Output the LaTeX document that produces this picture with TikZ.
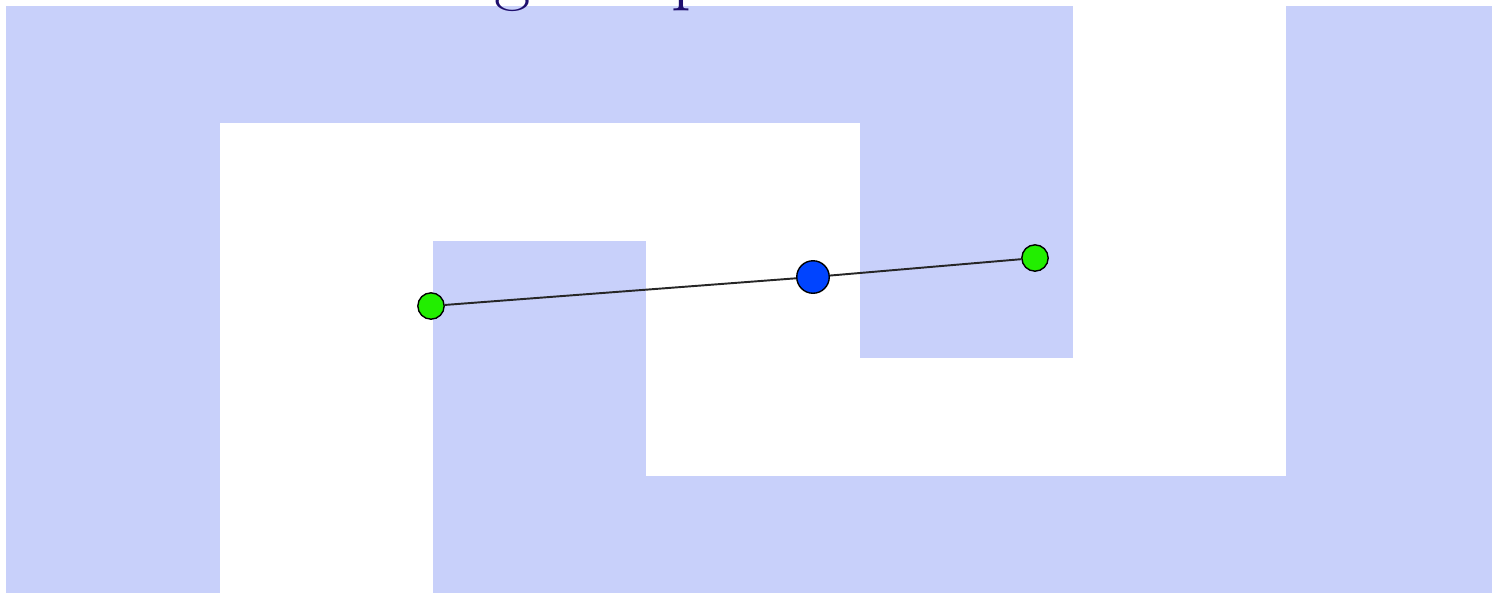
\documentclass[tikz,border=0pt]{standalone}
\usepackage{xcolor}
\usepackage{tikz}
\usetikzlibrary{positioning, calc}
\definecolor{wallblue}{HTML}{C8D0FA}
\definecolor{titleink}{HTML}{1F0F6E}
\definecolor{endgreen}{HTML}{22EE00}
\definecolor{midblue}{HTML}{0044FF}
\tikzset{
  wall/.style={fill=wallblue, draw=none},
  endpt/.style={
    circle, inner sep=0pt, minimum size=15pt,
    draw=black, line width=0.8pt, fill=endgreen,
  },
  midpt/.style={
    circle, inner sep=0pt, minimum size=18.5pt,
    draw=black, line width=0.8pt, fill=midblue,
  },
  segment/.style={draw=black!85, line width=1.1pt},
  title/.style={font=\fontsize{45}{52}\selectfont, text=titleink, anchor=base, inner sep=0pt},
}

\begin{document}
\begin{tikzpicture}[x=0.02cm, y=-0.02cm]
  \useasboundingbox (0,0) rectangle (1492,593);

  % maze walls
  \fill[wall] (6,6) rectangle (220,593);
  \fill[wall] (6,6) rectangle (1073,123);
  \fill[wall] (860,123) rectangle (1073,358);
  \fill[wall] (1286,6) rectangle (1492,593);
  \fill[wall] (433,476) rectangle (1492,593);
  \fill[wall] (433,241) rectangle (646,476);

  % heading, mostly above the page
  \node[title] (tg) at (513,-5) {g};
  \node[title] (tp) at (692,-5) {p};

  % path through the gap
  \node[endpt] (start) at (431,306) {};
  \node[midpt] (probe) at (813,277) {};
  \node[endpt] (goal) at (1035,258) {};

  \draw[segment] (start) -- (probe);
  \draw[segment] (probe) -- (goal);
\end{tikzpicture}
\end{document}
